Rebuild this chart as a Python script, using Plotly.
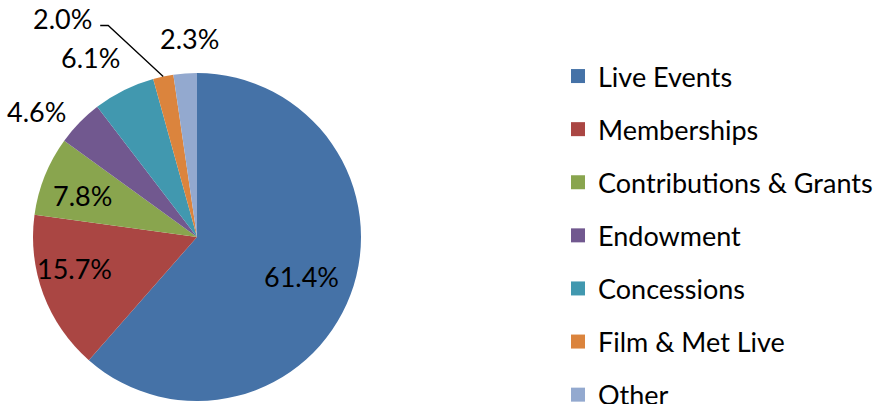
import math
import plotly.graph_objects as go

categories = ["Live Events", "Memberships", "Contributions & Grants", "Endowment",
              "Concessions", "Film & Met Live", "Other"]
values = [61.4, 15.7, 7.8, 4.6, 6.1, 2.0, 2.3]
value_labels = ["61.4%", "15.7%", "7.8%", "4.6%", "6.1%", "2.0%", "2.3%"]
colors = ["#4572A7", "#AA4643", "#89A54E", "#71588F", "#4198AF", "#DB843D", "#93A9CF"]

W, H = 877, 404
CX, CY, R = 197, 237, 164  # pie centre (px from top-left) and radius
FONT = "Lato"
FS = 27

fig = go.Figure()
fig.add_trace(go.Pie(
    labels=categories, values=values, sort=False, direction="clockwise",
    rotation=0, marker=dict(colors=colors, line=dict(width=0)),
    textinfo="none", showlegend=False, hoverinfo="label+percent",
    domain=dict(x=[(CX - R) / W, (CX + R) / W], y=[(H - CY - R) / H, (H - CY + R) / H]),
))

# legend entries
for c, col in zip(categories, colors):
    fig.add_trace(go.Scatter(x=[None], y=[None], mode="markers", name=c,
                             legendgroup=c,
                             marker=dict(symbol="square", size=14, color=col)))

def px_to_paper(x, y):
    return x / W, (H - y) / H

total = sum(values)
cum = 0
annotations = []
shapes = []
inside_r = [0.68, 0.77, 0.74]
inside_da = [0, 6, -2]  # small angular nudge (deg) for label placement
for i, (v, lab) in enumerate(zip(values, value_labels)):
    mid = (cum + v / 2) / total * 2 * math.pi
    cum += v
    if i < 3:
        a = mid + math.radians(inside_da[i])
        s, c = math.sin(a), math.cos(a)
        x, y = px_to_paper(CX + inside_r[i] * R * s, CY - inside_r[i] * R * c)
        annotations.append(dict(x=x, y=y, xref="paper", yref="paper", text=lab,
                                showarrow=False, xanchor="center", yanchor="middle"))
        continue
    s, c = math.sin(mid), math.cos(mid)
    if lab == "2.0%":
        ex, ey = CX + R * s, CY - R * c
        bx, by = ex - 55, ey - 51
        hx = bx - 8
        p1 = px_to_paper(ex, ey); p2 = px_to_paper(bx, by); p3 = px_to_paper(hx, by)
        shapes.append(dict(type="path", xref="paper", yref="paper",
                           path=f"M {p1[0]},{p1[1]} L {p2[0]},{p2[1]} L {p3[0]},{p3[1]}",
                           line=dict(color="black", width=1.3)))
        x, y = px_to_paper(hx - 6, by - 7)
        annotations.append(dict(x=x, y=y, xref="paper", yref="paper", text=lab,
                                showarrow=False, xanchor="right", yanchor="middle"))
    else:
        dev = math.degrees(mid)
        dev = min(dev, 360 - dev)
        if dev < 10:
            xa, ya, k, dx = "center", "bottom", 1.1, 6
        elif dev < 40:
            xa, ya, k, dx = "right", "bottom", 1.1, 5
        else:
            xa, ya, k, dx = "right", "middle", 1.1, 0
        ax_, ay_ = CX + k * R * s + dx, CY - k * R * c
        x, y = px_to_paper(ax_, ay_)
        annotations.append(dict(x=x, y=y, xref="paper", yref="paper", text=lab,
                                showarrow=False, xanchor=xa, yanchor=ya))

fig.update_layout(
    width=W, height=H, margin=dict(l=0, r=0, t=0, b=0, autoexpand=False),
    paper_bgcolor="white", plot_bgcolor="white",
    font=dict(family=FONT, size=FS, color="black"),
    xaxis=dict(visible=False), yaxis=dict(visible=False),
    annotations=annotations, shapes=shapes,
    legend=dict(x=558 / W, y=(H - 52) / H, xanchor="left", yanchor="top",
                font=dict(family=FONT, size=FS, color="black"),
                tracegroupgap=15, maxheight=3000, bgcolor="rgba(0,0,0,0)"),
)
fig.write_html("out.html", config={"displayModeBar": False},
               post_script="document.body.style.margin='0';")
